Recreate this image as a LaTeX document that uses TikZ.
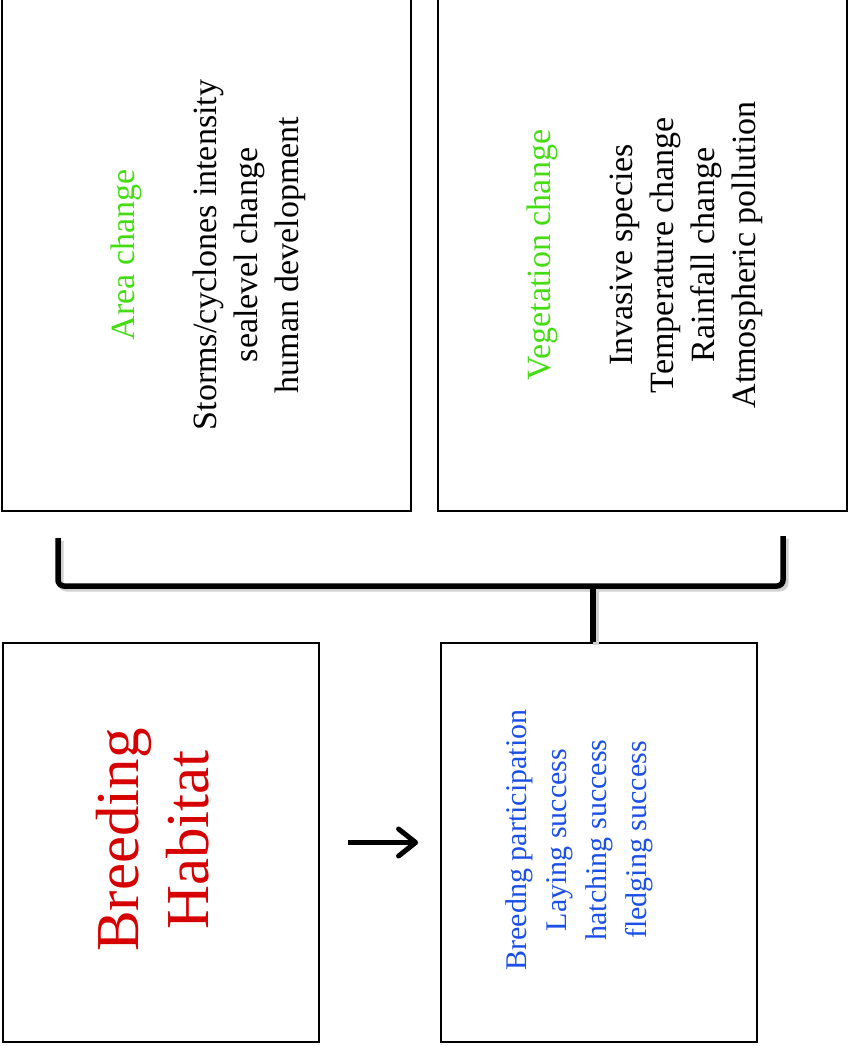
\documentclass[tikz,border=0pt]{standalone}
\usepackage{fontspec}
\setmainfont{Liberation Serif}
\usetikzlibrary{arrows.meta,positioning}

\definecolor{factorgreen}{RGB}{68,221,17}
\definecolor{habitatred}{RGB}{215,0,0}
\definecolor{outcomeblue}{RGB}{26,79,232}

\begin{document}
\begin{tikzpicture}[
    x=1pt, y=-1pt,
    panel/.style={draw, line width=1.8pt, minimum width=#1},
    label/.style={align=center, rotate=90, inner sep=0pt},
    brace/.style={line width=5.5pt, rounded corners=6pt,
      preaction={draw=black!18, line width=6pt, transform canvas={shift={(2.5pt,-2.5pt)}}}},
    >={Straight Barb[length=17pt, width=27pt, line width=5pt, round]}
  ]
    \useasboundingbox (0,0) rectangle (849,1046);

    % boxes
    \node[panel, minimum height=512pt, minimum width=409pt] (area) at (206.5,255) {};
    \node[panel, minimum height=512pt, minimum width=409pt] (vegetation) at (642.5,255) {};
    \node[panel, minimum height=399pt, minimum width=316pt] (habitat) at (161,842.5) {};
    \node[panel, minimum height=399pt, minimum width=316pt] (success) at (599,842.5) {};

    % texts
    \node[label, font=\fontsize{34}{41}\selectfont] (areatext) at (208,255)
      {\textcolor{factorgreen}{Area change}\\[41pt]
       Storms/cyclones intensity\\ sealevel change\\ human development};
    \node[label, font=\fontsize{34}{41}\selectfont] (vegtext) at (645,255)
      {\textcolor{factorgreen}{Vegetation change}\\[41pt]
       Invasive species\\ Temperature change\\ Rainfall change\\ Atmospheric pollution};
    \node[label, text=habitatred, font=\fontsize{61}{70}\selectfont] (habitattext) at (153,840)
      {Breeding\\ Habitat};
    \node[label, text=outcomeblue, font=\fontsize{30}{40}\selectfont] (successtext) at (579,840)
      {Breedng participation\\ Laying success\\ hatching success\\ fledging success};

    % bracket joining the two upper boxes
    \coordinate (bl) at (58,538);
    \coordinate (br) at (783,536);
    \coordinate (join) at (593,586);
    \draw[brace] (bl) -- (bl |- join) -- (br |- join) -- (br);
    \draw[brace, rounded corners=0pt] (join) -- (join |- success.north);

    \draw[->, line width=5pt] ([xshift=28pt]habitat.east) -- ([xshift=-22pt]success.west);
  \end{tikzpicture}
\end{document}
